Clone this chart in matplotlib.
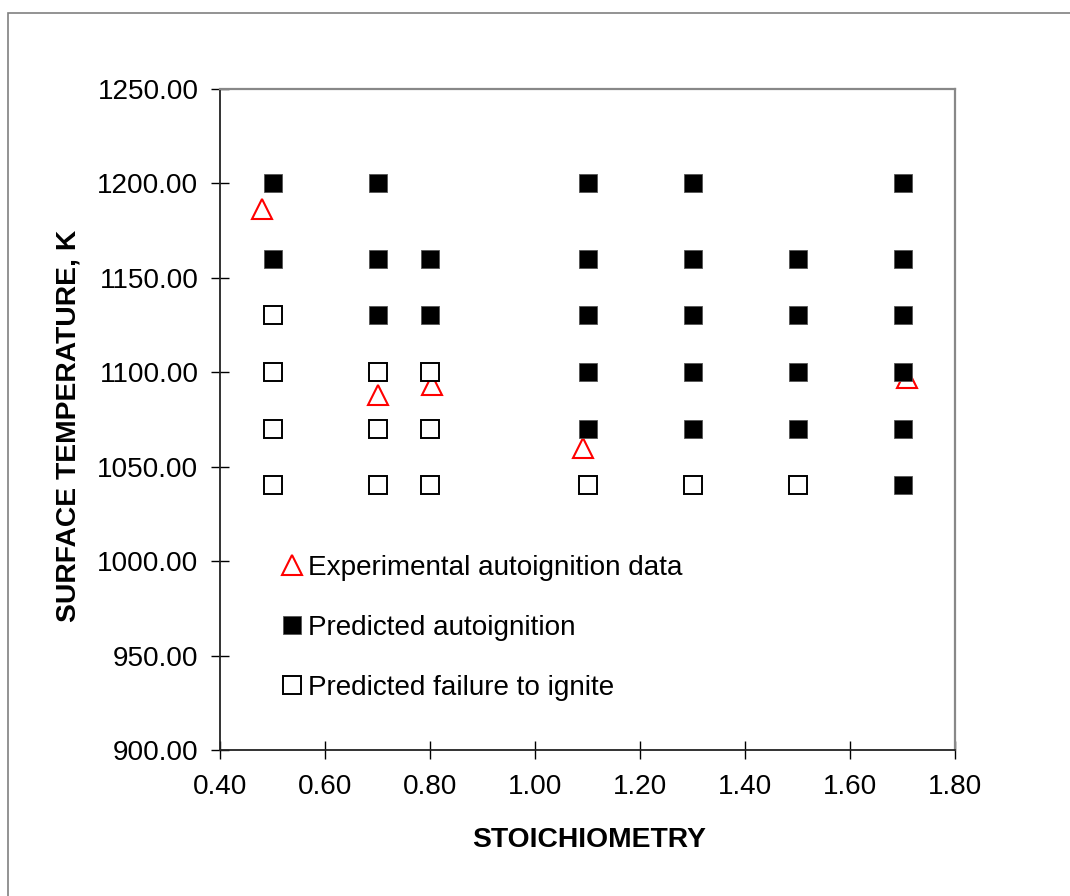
import matplotlib
matplotlib.use("Agg")
import matplotlib.pyplot as plt
from matplotlib.ticker import FormatStrFormatter
from matplotlib.patches import Rectangle

plt.rcParams['font.family'] = ['Liberation Sans', 'DejaVu Sans']

# Experimental autoignition data (red triangles)
exp_x = [0.48, 0.70, 0.803, 1.091, 1.709]
exp_y = [1186, 1088, 1093, 1060, 1097]

# Predicted autoignition (filled squares)
ign_x = [0.5, 0.5,
         0.7, 0.7, 0.7,
         0.8, 0.8,
         1.1, 1.1, 1.1, 1.1, 1.1,
         1.3, 1.3, 1.3, 1.3, 1.3,
         1.5, 1.5, 1.5, 1.5,
         1.7, 1.7, 1.7, 1.7, 1.7, 1.7]
ign_y = [1200, 1160,
         1200, 1160, 1130,
         1160, 1130,
         1200, 1160, 1130, 1100, 1070,
         1200, 1160, 1130, 1100, 1070,
         1160, 1130, 1100, 1070,
         1200, 1160, 1130, 1100, 1070, 1040]

# Predicted failure to ignite (open squares)
fail_x = [0.5, 0.5, 0.5, 0.5,
          0.7, 0.7, 0.7,
          0.8, 0.8, 0.8,
          1.1, 1.3, 1.5]
fail_y = [1130, 1100, 1070, 1040,
          1100, 1070, 1040,
          1100, 1070, 1040,
          1040, 1040, 1040]

x_ticks = [0.40, 0.60, 0.80, 1.00, 1.20, 1.40, 1.60, 1.80]
y_ticks = [900, 950, 1000, 1050, 1100, 1150, 1200, 1250]

W, H = 1070, 896
fig = plt.figure(figsize=(W / 100, H / 100), dpi=100)
ax = fig.add_axes([220 / W, 1 - 750 / H, (955 - 220) / W, (750 - 88.5) / H])

# figure border
fig.patches.append(Rectangle((8 / W, -0.01), 1.05, 1 - 13 / H + 0.01,
                             transform=fig.transFigure, fill=False,
                             edgecolor='#808080', linewidth=1.2))

h_exp, = ax.plot(exp_x, exp_y, linestyle='none', marker='^', markersize=14,
                 markerfacecolor='none', markeredgecolor='#ff0000',
                 markeredgewidth=1.5, zorder=2, clip_on=False,
                 label='Experimental autoignition data')
h_ign, = ax.plot(ign_x, ign_y, linestyle='none', marker='s', markersize=13.5,
                 markerfacecolor='black', markeredgecolor='#555555',
                 markeredgewidth=0.6, zorder=3, clip_on=False,
                 label='Predicted autoignition')
h_fail, = ax.plot(fail_x, fail_y, linestyle='none', marker='s', markersize=12.8,
                  markerfacecolor='white', markeredgecolor='black',
                  markeredgewidth=1.4, zorder=3, clip_on=False,
                  label='Predicted failure to ignite')

ax.set_xlim(0.40, 1.80)
ax.set_ylim(900, 1250)
ax.set_xticks(x_ticks)
ax.set_yticks(y_ticks)
ax.xaxis.set_major_formatter(FormatStrFormatter('%.2f'))
ax.yaxis.set_major_formatter(FormatStrFormatter('%.2f'))

ax.tick_params(axis='both', direction='inout', length=13, width=1.0,
               labelsize=20.1, colors='black')
ax.tick_params(axis='x', pad=11)
ax.tick_params(axis='y', pad=9)

for s in ['left', 'bottom']:
    ax.spines[s].set_color('#222222')
    ax.spines[s].set_linewidth(1.3)
for s in ['top', 'right']:
    ax.spines[s].set_color('#888888')
    ax.spines[s].set_linewidth(1.6)

fig.text(589 / W, 1 - 840 / H, 'STOICHIOMETRY', fontsize=20.3,
         fontweight='bold', ha='center', va='center')
fig.text(69 / W, 1 - 426 / H, 'SURFACE TEMPERATURE, K', fontsize=20.3,
         fontweight='bold', ha='center', va='center', rotation=90)

leg = ax.legend(handles=[h_exp, h_ign, h_fail], loc='upper left',
                bbox_to_anchor=(281 / W, 1 - 555 / H),
                bbox_transform=fig.transFigure, frameon=False,
                fontsize=20.1, handlelength=0.8, handletextpad=0.15,
                labelspacing=1.22, borderpad=0, borderaxespad=0,
                numpoints=1)

fig.savefig('out.png', dpi=100, facecolor='white')
